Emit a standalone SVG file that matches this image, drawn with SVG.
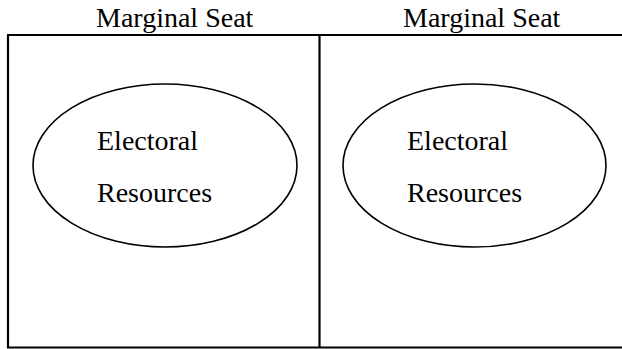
<svg xmlns="http://www.w3.org/2000/svg" width="622" height="349" viewBox="0 0 622 349">
<style>
text{font-family:"Liberation Serif","Times New Roman",Times,serif;font-size:28px;fill:#000}
.ln{stroke:#000;stroke-width:2.2;fill:none}
.el{stroke:#000;stroke-width:1.6;fill:#fff}
</style>
<rect width="622" height="349" fill="#fff"/>
<g id="connectors">
<path class="ln" d="M7,35 H622 M8,35 V348 M319.5,35 V348 M7,347.5 H622"/>
</g>
<g id="header-left"><text x="96" y="27" font-family="Liberation Serif, serif">Marginal Seat</text></g>
<g id="header-right"><text x="403" y="27" font-family="Liberation Serif, serif">Marginal Seat</text></g>
<g id="node-left">
<ellipse class="el" cx="165" cy="165.5" rx="132" ry="81.5"/>
<text x="97" y="150" font-family="Liberation Serif, serif">Electoral</text>
<text x="97" y="202" font-family="Liberation Serif, serif">Resources</text>
</g>
<g id="node-right">
<ellipse class="el" cx="474.5" cy="165.5" rx="131.5" ry="81.5"/>
<text x="407" y="150" font-family="Liberation Serif, serif">Electoral</text>
<text x="407" y="202" font-family="Liberation Serif, serif">Resources</text>
</g>
</svg>
